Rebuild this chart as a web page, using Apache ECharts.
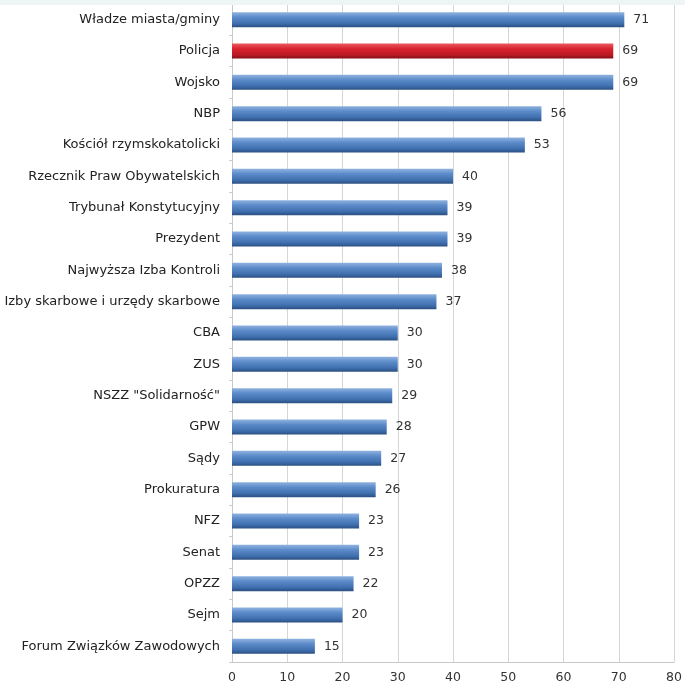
<!DOCTYPE html>
<html><head><meta charset="utf-8">
<script src="https://cdn.jsdelivr.net/npm/echarts@6/dist/echarts.min.js"></script>
<style>html,body{margin:0;padding:0;background:#fff}#c{width:685px;height:689px}
#strip{position:absolute;left:0;top:0;width:685px;height:5px;background:#eef5f5}</style>
</head><body><div id="c"></div><div id="strip"></div>
<script>
const categories = ["Władze miasta/gminy","Policja","Wojsko","NBP","Kościół rzymskokatolicki","Rzecznik Praw Obywatelskich","Trybunał Konstytucyjny","Prezydent","Najwyższa Izba Kontroli","Izby skarbowe i urzędy skarbowe","CBA","ZUS","NSZZ \"Solidarność\"","GPW","Sądy","Prokuratura","NFZ","Senat","OPZZ","Sejm","Forum Związków Zawodowych"];
const values = [71,69,69,56,53,40,39,39,38,37,30,30,29,28,27,26,23,23,22,20,15];
const highlighted = "Policja";
const xTicks = [0,10,20,30,40,50,60,70,80];

const blue = {type:'linear',x:0,y:0,x2:0,y2:1,colorStops:[{offset:0,color:'#8fb2e0'},{offset:0.35,color:'#5a8ac8'},{offset:0.75,color:'#3f6fae'},{offset:1,color:'#2b4f82'}]};
const red = {type:'linear',x:0,y:0,x2:0,y2:1,colorStops:[{offset:0,color:'#ec5a5e'},{offset:0.35,color:'#d8232e'},{offset:0.75,color:'#bb1a24'},{offset:1,color:'#861018'}]};
const font = 'DejaVu Sans';

const chart = echarts.init(document.getElementById('c'));
chart.setOption({
  animation:false,
  backgroundColor:'#fff',
  grid:{left:232,right:8,top:4,bottom:27},
  xAxis:{type:'value',min:xTicks[0],max:xTicks[xTicks.length-1],interval:10,
    axisLine:{show:true,lineStyle:{color:'#c8c8c8'}},axisTick:{show:false},
    splitLine:{show:true,lineStyle:{color:'#d6d6d6'}},
    axisLabel:{color:'#333',fontFamily:font,fontSize:12.5,margin:9}},
  yAxis:{type:'category',inverse:true,data:categories,
    axisLine:{show:true,lineStyle:{color:'#c8c8c8'}},
    axisTick:{show:true,length:3,lineStyle:{color:'#d8c8c0'}},
    axisLabel:{color:'#222',fontFamily:font,fontSize:13,margin:12}},
  series:[{type:'bar',barWidth:15,
    data:values.map((v,i)=>({value:v,itemStyle:{color:categories[i]===highlighted?red:blue}})),
    label:{show:true,position:'right',distance:9,color:'#333',fontFamily:font,fontSize:12.5}}]
});
</script></body></html>
